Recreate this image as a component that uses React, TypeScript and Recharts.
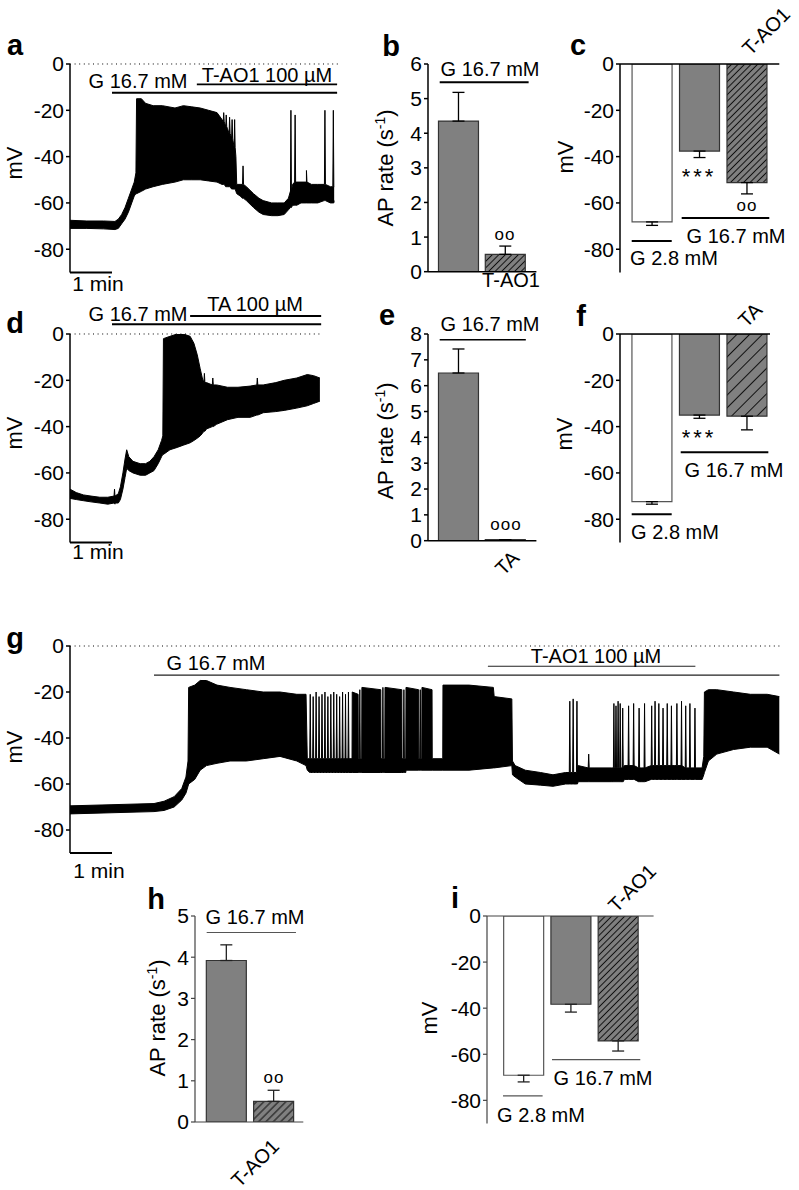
import React from "react";
import { AreaChart, Area, BarChart, Bar, Cell, ErrorBar, XAxis, YAxis, ReferenceLine } from "recharts";

const FONT = '"Liberation Sans", Arial, Helvetica, sans-serif';
const PX_PER_MIN = 42;

// membrane potential traces: [minute, lower envelope mV, upper envelope mV]
const traceA = [
  [0, -71, -67.5], [0.4, -71, -67.8], [0.8, -71.2, -67.8], [1.07, -71.5, -68], [1.15, -71, -67],
  [1.23, -69, -65], [1.31, -67, -62], [1.39, -64, -58], [1.47, -60, -54], [1.53, -57, -51],
  [1.57, -56, -47], [1.585, -56, -15], [1.7, -55, -15], [1.8, -54, -17], [1.98, -53, -18],
  [2.2, -52, -18], [2.5, -51, -19], [2.7, -50, -18], [2.9, -50, -18.5], [3.1, -50, -19],
  [3.3, -50.5, -20], [3.5, -51, -21], [3.62, -52, -24], [3.75, -53, -28], [3.88, -54, -33],
  [3.95, -55, -40], [3.97, -56, -52], [4.05, -57, -52], [4.2, -59, -53], [4.37, -62, -56],
  [4.5, -64, -58], [4.6, -65, -59], [4.8, -65.5, -60], [4.95, -65.5, -60], [5.1, -65, -60],
  [5.2, -63, -58], [5.25, -62, -56], [5.3, -61, -52], [5.4, -61, -51], [5.5, -60, -51],
  [5.63, -60, -51], [5.75, -60, -52], [5.9, -60, -52], [6.05, -59, -52], [6.2, -60, -53],
  [6.29, -59, -53],
];
// single action potentials: [minute, lower mV, shoulder mV, peak mV]
const spikesA = [
  [3.66, -52, -25, -21], [3.72, -53, -27, -22], [3.8, -53, -30, -23], [3.86, -54, -32, -24],
  [3.92, -54, -36, -24], [4.12, -58, -52, -44], [5.26, -62, -55, -20], [5.36, -61, -51, -22],
  [5.63, -60, -51, -46], [6.07, -59, -52, -20], [6.27, -60, -53, -20],
];

const traceD = [
  [0, -71, -67], [0.15, -71.5, -68.5], [0.32, -72, -69.5], [0.5, -72.5, -70], [0.71, -73, -70.5],
  [0.9, -73.5, -70.5], [1.07, -73.5, -70], [1.15, -73, -69], [1.2, -71.5, -66], [1.26, -67, -60],
  [1.31, -62, -54], [1.35, -58, -50], [1.4, -59, -53], [1.5, -60, -55], [1.67, -61, -56],
  [1.8, -61, -56], [1.9, -60, -55], [2.0, -59, -53], [2.1, -56, -50], [2.18, -53, -46],
  [2.21, -52, -44], [2.225, -52, -2], [2.38, -50, -1], [2.55, -49, 0], [2.7, -48, 0],
  [2.86, -47, -1], [2.95, -46, -4], [3.03, -45, -9], [3.1, -44, -15], [3.15, -43, -19],
  [3.25, -41, -21], [3.49, -39, -22], [3.75, -37, -23], [4.0, -36, -23], [4.29, -36, -22.5],
  [4.6, -34, -22], [4.9, -33.5, -21], [5.1, -33, -20], [5.4, -32, -19], [5.65, -31, -17.5],
  [5.8, -30, -18], [5.95, -29, -19],
];
const spikesD = [
  [1.06, -73, -70, -67], [3.2, -42, -21, -17], [3.4, -40, -22, -19], [4.46, -35, -22, -19],
];

const traceG = [
  [0, -73, -69.5], [1.0, -72.5, -69], [2.0, -72, -68.5], [2.24, -71.5, -67.5], [2.48, -70, -65.5],
  [2.66, -67, -62], [2.76, -64, -57], [2.81, -61, -50], [2.825, -60, -18], [2.97, -58, -17],
  [3.1, -54, -15], [3.25, -52, -15], [3.5, -51, -17], [3.81, -50, -18], [4.2, -50, -19],
  [4.6, -49, -20], [5.0, -48, -20], [5.4, -50, -21], [5.62, -52, -21], [5.65, -54, -49],
  [6.715, -55, -49], [6.72, -55, -20], [6.86, -55, -21], [6.865, -55, -49],
  [6.945, -55, -49], [6.95, -55, -18], [7.4, -55, -19], [7.405, -55, -49],
  [7.495, -55, -49], [7.5, -55, -18], [7.9, -55, -19], [7.905, -55, -49],
  [7.995, -55, -49], [8.0, -54, -18], [8.3, -54, -19], [8.305, -54, -49],
  [8.375, -54, -49], [8.38, -54, -18], [8.62, -54, -19], [8.625, -54, -49],
  [8.875, -54, -49], [8.88, -54, -17], [9.5, -54, -17], [10.08, -53, -18],
  [10.1, -53, -22], [10.52, -52, -23], [10.535, -56, -50], [10.6, -57, -52],
  [10.84, -60, -54], [11.2, -60.5, -55], [11.5, -61, -56], [11.8, -60, -55], [12.1, -59, -52],
  [12.5, -59, -53], [12.9, -59, -53], [13.2, -58, -52], [13.6, -59, -53], [14.0, -58, -52],
  [14.4, -58, -52], [14.9, -58, -53], [15.05, -58, -53], [15.09, -56, -48], [15.105, -55, -20],
  [15.2, -50, -19], [15.4, -47, -19], [15.8, -45, -20], [16.2, -44, -21], [16.6, -44, -21],
  [16.89, -47, -22],
];
const spikesG = [
  [5.72, -55, -49, -21], [5.79, -55, -49, -22], [5.86, -55, -49, -20], [5.93, -55, -49, -22],
  [6.0, -55, -49, -21], [6.07, -55, -49, -20], [6.14, -55, -49, -22], [6.21, -55, -49, -21],
  [6.28, -55, -49, -20], [6.35, -55, -49, -21], [6.42, -55, -49, -22], [6.49, -55, -49, -20],
  [6.56, -55, -49, -21], [6.63, -55, -49, -20], [6.9, -55, -49, -19], [7.45, -55, -49, -18],
  [7.95, -55, -49, -19], [8.34, -54, -49, -19],
  [11.9, -60, -55, -24], [11.98, -60, -55, -23], [12.07, -60, -55, -24], [12.35, -59, -53, -47],
  [12.95, -59, -53, -25], [13.0, -59, -53, -26], [13.05, -59, -53, -24], [13.1, -59, -53, -25],
  [13.16, -59, -53, -27], [13.3, -58, -52, -26], [13.42, -58, -52, -25], [13.55, -59, -53, -27],
  [13.68, -59, -53, -25], [13.85, -58, -52, -26], [13.93, -58, -52, -24], [14.02, -58, -52, -25],
  [14.12, -58, -52, -27], [14.22, -58, -52, -25], [14.32, -58, -52, -26], [14.45, -58, -52, -25],
  [14.56, -58, -52, -24], [14.66, -58, -53, -26], [14.76, -58, -53, -25], [14.88, -58, -53, -27],
];

// bar panels
const rateKinds = ["gray", "hatch"];
const vmKinds = ["white", "gray", "hatch"];
const rateB = [4.35, 0.5];
const rateBErr = [0.83, 0.24];
const vmC = [-68.2, -37.6, -51.2];
const vmCErr = [1.5, 2.8, 4.9];
const rateE = [6.49, 0.04];
const rateEErr = [0.93, 0];
const vmF = [-72.4, -35.0, -35.5];
const vmFErr = [1.1, 1.4, 5.9];
const rateH = [3.92, 0.5];
const rateHErr = [0.38, 0.27];
const vmI = [-69.1, -38.3, -54.2];
const vmIErr = [2.9, 3.4, 4.4];

const vmTicks = [0, -20, -40, -60, -80];

function buildTrace(band, spikes, dt = 0.012) {
  const rows = band.map(([t, lo, hi]) => ({ t, v: [lo, hi] }));
  spikes.forEach(([t, lo, base, peak]) => {
    rows.push({ t: t - dt, v: [lo, base] }, { t, v: [lo, peak] }, { t: t + dt, v: [lo, base] });
  });
  return rows.sort((p, q) => p.t - q.t);
}

function barRows(vals, errs, kinds) {
  return vals.map((v, i) => ({ x: i + 1, v, err: v >= 0 ? [0, errs[i]] : [errs[i], 0], kind: kinds[i] }));
}

function frame(left, top, w, h, yw) {
  const margin = { top: 30, right: 14, bottom: 14, left: 0 };
  return {
    pos: { position: "absolute" as const, left: left - yw, top: top - margin.top },
    width: yw + w + margin.right,
    height: h + margin.top + margin.bottom,
    margin,
  };
}

const tickFont = { fontSize: 21, fill: "#000" };

function Trace({ data, left, top, maxT, plotH, lines, lineW = 2, lineColor = "#000" }) {
  const f = frame(left, top, maxT * PX_PER_MIN, plotH, 70);
  return (
    <div style={f.pos}>
      <AreaChart width={f.width} height={f.height} data={data} margin={f.margin}>
        <XAxis type="number" dataKey="t" domain={[0, maxT]} hide allowDataOverflow />
        <YAxis
          type="number"
          domain={[-90, 0]}
          ticks={vmTicks}
          interval={0}
          width={70}
          tickSize={4}
          tickMargin={2}
          allowDataOverflow
          axisLine={{ stroke: "#000", strokeWidth: 1.5 }}
          tickLine={{ stroke: "#000", strokeWidth: 1.5 }}
          tick={tickFont}
        />
        <ReferenceLine y={0} stroke="#000" strokeWidth={1} strokeDasharray="1 3.6" />
        <Area
          dataKey="v"
          type="linear"
          stroke="#000"
          strokeWidth={1}
          fill="#000"
          fillOpacity={1}
          dot={false}
          activeDot={false}
          isAnimationActive={false}
        />
        <ReferenceLine segment={[{ x: 0, y: -90 }, { x: 1, y: -90 }]} stroke="#000" strokeWidth={2} ifOverflow="visible" />
        {lines.map(([x1, x2, y], k) => (
          <ReferenceLine key={k} segment={[{ x: x1, y }, { x: x2, y }]} stroke={lineColor} strokeWidth={lineW} ifOverflow="visible" />
        ))}
      </AreaChart>
    </div>
  );
}

function BarPanel({ rows, plot, xDomain, yDomain, yTicks, lines, hatch, lineW = 2, lineColor = "#000", axisColor = "#000", axisW = 1.5, errColor = "#000" }) {
  const [left, top, w, h] = plot;
  const f = frame(left, top, w, h, 50);
  const fills = { white: "#ffffff", gray: "#808080", hatch: `url(#${hatch})` };
  return (
    <div style={f.pos}>
      <BarChart width={f.width} height={f.height} data={rows} margin={f.margin}>
        <XAxis type="number" dataKey="x" domain={xDomain} hide allowDataOverflow />
        <YAxis
          type="number"
          domain={yDomain}
          ticks={yTicks}
          interval={0}
          width={50}
          tickSize={4}
          tickMargin={2}
          allowDataOverflow
          axisLine={{ stroke: axisColor, strokeWidth: axisW }}
          tickLine={{ stroke: axisColor, strokeWidth: axisW }}
          tick={tickFont}
        />
        <Bar dataKey="v" barSize={40} isAnimationActive={false}>
          {rows.map((r, k) => (
            <Cell key={k} fill={fills[r.kind]} stroke={r.kind === "white" ? "#555" : "#333"} strokeWidth={1.2} />
          ))}
          <ErrorBar dataKey="err" width={6} stroke={errColor} strokeWidth={1.3} />
        </Bar>
        <ReferenceLine y={0} stroke={axisColor} strokeWidth={axisW} ifOverflow="visible" />
        {lines.map(([x1, x2, y], k) => (
          <ReferenceLine key={k} segment={[{ x: x1, y }, { x: x2, y }]} stroke={lineColor} strokeWidth={lineW} ifOverflow="visible" />
        ))}
      </BarChart>
    </div>
  );
}

function Txt({ x, y, children, size = 20, rot = 0, bold = false, spacing = 0 }) {
  return (
    <div
      style={{
        position: "absolute",
        left: x,
        top: y,
        transform: `translate(-50%, -50%) rotate(${rot}deg)`,
        fontSize: size,
        fontWeight: bold ? "bold" : "normal",
        letterSpacing: spacing,
        whiteSpace: "nowrap",
        lineHeight: 1,
        color: "#000",
      }}
    >
      {children}
    </div>
  );
}

function ApLabel({ x, y }) {
  return (
    <Txt x={x} y={y} rot={-90} size={22}>
      AP rate (s<span style={{ fontSize: 14, verticalAlign: "8px" }}>-1</span>)
    </Txt>
  );
}

export default function App() {
  const dataA = buildTrace(traceA, spikesA);
  const dataD = buildTrace(traceD, spikesD);
  const dataG = buildTrace(traceG, spikesG);

  return (
    <div style={{ position: "absolute", left: 0, top: 0, width: 799, height: 1190, background: "#fff", fontFamily: FONT, overflow: "hidden" }}>
      <svg width={0} height={0} style={{ position: "absolute" }}>
        <defs>
          <pattern id="hatchDense" width="4.6" height="4.6" patternUnits="userSpaceOnUse" patternTransform="rotate(45)">
            <rect width="4.6" height="4.6" fill="#808080" />
            <line x1="2.3" y1="0" x2="2.3" y2="4.6" stroke="#111" strokeWidth="1" />
          </pattern>
          <pattern id="hatchH" width="5.2" height="5.2" patternUnits="userSpaceOnUse" patternTransform="rotate(45)">
            <rect width="5.2" height="5.2" fill="#808080" />
            <line x1="2.6" y1="0" x2="2.6" y2="5.2" stroke="#111" strokeWidth="1" />
          </pattern>
          <pattern id="hatchSparse" width="9" height="9" patternUnits="userSpaceOnUse" patternTransform="rotate(45)">
            <rect width="9" height="9" fill="#808080" />
            <line x1="4.5" y1="0" x2="4.5" y2="9" stroke="#111" strokeWidth="1" />
          </pattern>
        </defs>
      </svg>

      <Trace data={dataA} left={70} top={64} maxT={6.45} plotH={208.4} lines={[[1.0, 6.36, -12.4], [3.02, 6.36, -8.8]]} />
      <Trace data={dataD} left={70} top={334} maxT={6.0} plotH={208.4} lines={[[1.0, 5.98, 4.2], [2.86, 5.98, 7.8]]} />
      <Trace data={dataG} left={70} top={645.7} maxT={16.9} plotH={207} lines={[[2.0, 16.89, -12.7], [9.95, 14.89, -8.8]]} lineW={1.2} lineColor="#222" />

      <BarPanel rows={barRows(rateB, rateBErr, rateKinds)} plot={[428.3, 64, 108.4, 207.7]} xDomain={[0.34, 2.656]} yDomain={[0, 6]} yTicks={[0, 1, 2, 3, 4, 5, 6]} lines={[[0.59, 2.49, 5.47]]} hatch="hatchDense" />
      <BarPanel rows={barRows(vmC, vmCErr, vmKinds)} plot={[620, 64, 159.3, 208.4]} xDomain={[0.33, 3.687]} yDomain={[-90, 0]} yTicks={vmTicks} lines={[[1.63, 3.476, -66.5], [0.577, 1.42, -76.4]]} hatch="hatchDense" />
      <BarPanel rows={barRows(rateE, rateEErr, rateKinds)} plot={[428.3, 334, 108.4, 206.7]} xDomain={[0.34, 2.656]} yDomain={[0, 8]} yTicks={[0, 1, 2, 3, 4, 5, 6, 7, 8]} lines={[[0.59, 2.43, 7.78]]} hatch="hatchDense" lineW={1.5} />
      <BarPanel rows={barRows(vmF, vmFErr, vmKinds)} plot={[620, 334, 150, 208.4]} xDomain={[0.333, 3.49]} yDomain={[-90, 0]} yTicks={vmTicks} lines={[[1.611, 3.455, -51.1], [0.579, 1.421, -77.8]]} hatch="hatchSparse" />
      <BarPanel rows={barRows(rateH, rateHErr, rateKinds)} plot={[195, 915.7, 108.3, 206]} xDomain={[0.345, 2.635]} yDomain={[0, 5]} yTicks={[0, 1, 2, 3, 4, 5]} lines={[[0.592, 2.48, 4.6]]} hatch="hatchH" lineW={1.2} lineColor="#555" axisColor="#444" axisW={1.2} errColor="#222" />
      <BarPanel rows={barRows(vmI, vmIErr, vmKinds)} plot={[486.7, 915.7, 166.6, 207.4]} xDomain={[0.232, 3.758]} yDomain={[-90, 0]} yTicks={vmTicks} lines={[[1.608, 3.476, -62.3], [0.571, 1.409, -78.1]]} hatch="hatchDense" lineW={1.2} lineColor="#555" axisColor="#444" axisW={1.2} errColor="#222" />

      {/* panel letters */}
      <Txt x={15} y={44.5} size={29} bold>a</Txt>
      <Txt x={391} y={46} size={29} bold>b</Txt>
      <Txt x={578} y={44.5} size={29} bold>c</Txt>
      <Txt x={15} y={323} size={29} bold>d</Txt>
      <Txt x={387} y={314.5} size={29} bold>e</Txt>
      <Txt x={581} y={316} size={29} bold>f</Txt>
      <Txt x={15} y={638} size={29} bold>g</Txt>
      <Txt x={156} y={899} size={29} bold>h</Txt>
      <Txt x={455} y={898} size={29} bold>i</Txt>

      {/* axis titles */}
      <Txt x={15} y={163} rot={-90} size={22}>mV</Txt>
      <Txt x={15} y={433} rot={-90} size={22}>mV</Txt>
      <Txt x={15} y={747} rot={-90} size={22}>mV</Txt>
      <Txt x={566} y={157} rot={-90} size={22}>mV</Txt>
      <Txt x={565} y={434} rot={-90} size={22}>mV</Txt>
      <Txt x={430} y={1018} rot={-90} size={22}>mV</Txt>
      <ApLabel x={385} y={168} />
      <ApLabel x={385} y={441} />
      <ApLabel x={157} y={1018} />

      {/* scale bars */}
      <Txt x={98} y={283} size={21}>1 min</Txt>
      <Txt x={98} y={551} size={21}>1 min</Txt>
      <Txt x={99} y={870} size={21}>1 min</Txt>

      {/* trace annotations */}
      <Txt x={138} y={81}>G 16.7 mM</Txt>
      <Txt x={267} y={75}>T-AO1 100 µM</Txt>
      <Txt x={138} y={314}>G 16.7 mM</Txt>
      <Txt x={255} y={304}>TA 100 µM</Txt>
      <Txt x={216} y={663}>G 16.7 mM</Txt>
      <Txt x={596} y={656}>T-AO1 100 µM</Txt>

      {/* b */}
      <Txt x={490} y={69}>G 16.7 mM</Txt>
      <Txt x={511} y={280}>T-AO1</Txt>
      <Txt x={505} y={234} size={17} spacing={1}>oo</Txt>
      {/* c */}
      <Txt x={699} y={177} size={22} spacing={3}>***</Txt>
      <Txt x={747} y={205} size={17} spacing={1}>oo</Txt>
      <Txt x={736} y={236}>G 16.7 mM</Txt>
      <Txt x={674} y={258}>G 2.8 mM</Txt>
      <Txt x={766} y={31} rot={-45}>T-AO1</Txt>
      {/* e */}
      <Txt x={490} y={324}>G 16.7 mM</Txt>
      <Txt x={506} y={524} size={17} spacing={1}>ooo</Txt>
      <Txt x={507} y={563} rot={-45}>TA</Txt>
      {/* f */}
      <Txt x={699} y={438} size={22} spacing={3}>***</Txt>
      <Txt x={734} y={470}>G 16.7 mM</Txt>
      <Txt x={675} y={532}>G 2.8 mM</Txt>
      <Txt x={750} y={315} rot={-45}>TA</Txt>
      {/* h */}
      <Txt x={255} y={917}>G 16.7 mM</Txt>
      <Txt x={274} y={1077} size={17} spacing={1}>oo</Txt>
      <Txt x={255} y={1163} rot={-45}>T-AO1</Txt>
      {/* i */}
      <Txt x={603} y={1078}>G 16.7 mM</Txt>
      <Txt x={541} y={1115}>G 2.8 mM</Txt>
      <Txt x={632} y={888} rot={-45}>T-AO1</Txt>
    </div>
  );
}
